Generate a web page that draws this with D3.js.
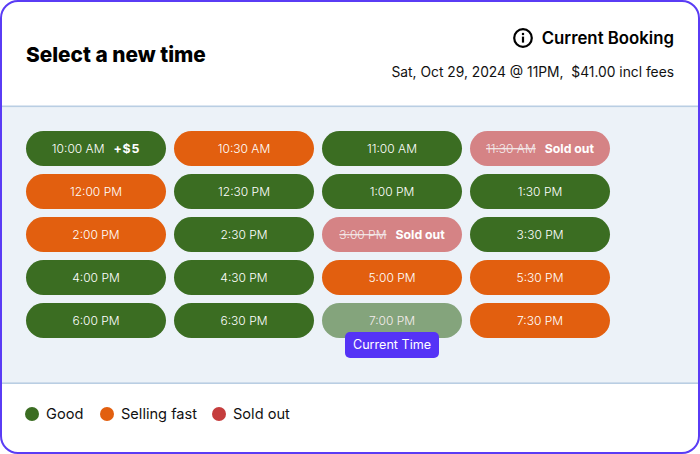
<!DOCTYPE html>
<html><head><meta charset="utf-8">
<script src="https://cdn.jsdelivr.net/npm/d3@7"></script>
<style>html,body{margin:0;padding:0;background:#fff}svg{display:block}text{font-family:Inter,"Noto Sans",sans-serif}</style>
</head><body><div id="c"></div>
<script>
const times=["10:00 AM","10:30 AM","11:00 AM","11:30 AM","12:00 PM","12:30 PM","1:00 PM","1:30 PM","2:00 PM","2:30 PM","3:00 PM","3:30 PM","4:00 PM","4:30 PM","5:00 PM","5:30 PM","6:00 PM","6:30 PM","7:00 PM","7:30 PM"];
const statuses=["good","fast","good","sold","fast","good","good","good","fast","good","sold","good","good","good","fast","fast","good","good","current","fast"];
const notes={"10:00 AM":"+$5","11:30 AM":"Sold out","3:00 PM":"Sold out"};
const columns=[0,1,2,3];
const rows=[0,1,2,3,4];
const legendLabels=["Good","Selling fast","Sold out"];
const legendKeys=["good","fast","sold"];
const legendColors=["#3B6D22","#E25F0F","#C53D3D"];
const title="Select a new time", bookingHead="Current Booking", bookingLine="Sat, Oct 29, 2024 @ 11PM,  $41.00 incl fees", tipLabel="Current Time";

const W=700,H=454;
const fill=d3.scaleOrdinal(["good","fast","sold","current"],["#3B6D22","#E25F0F","#D58385","#84A47C"]);
const x=d3.scaleBand().domain(columns).range([26,610]).paddingInner(8/148).paddingOuter(0).align(0);
const y=d3.scaleBand().domain(rows).range([131,338]).paddingInner(8/43).paddingOuter(0).align(0);
const svg=d3.select("#c").append("svg").attr("width",W).attr("height",H);

const defs=svg.append("defs");
defs.append("clipPath").attr("id","card").append("rect").attr("x",1).attr("y",1).attr("width",W-2).attr("height",H-2).attr("rx",17);

const g=svg.append("g").attr("clip-path","url(#card)");
g.append("rect").attr("width",W).attr("height",H).attr("fill","#fff");
g.append("rect").attr("x",0).attr("y",106).attr("width",W).attr("height",277).attr("fill","#ECF2F8");
g.append("rect").attr("x",0).attr("y",105.5).attr("width",W).attr("height",1.6).attr("fill","#B9CEE3");
g.append("rect").attr("x",0).attr("y",382.4).attr("width",W).attr("height",1.6).attr("fill","#B9CEE3");

svg.append("text").attr("x",26).attr("y",61.5).attr("font-size",20.8).attr("font-weight",800).attr("fill","#000").text(title);
svg.append("text").attr("x",674).attr("y",44).attr("text-anchor","end").attr("font-size",16.8).attr("font-weight",600).attr("fill","#000").text(bookingHead);
svg.append("text").attr("x",674).attr("y",77).attr("text-anchor","end").attr("font-size",13.8).attr("font-weight",400).attr("fill","#111").style("white-space","pre").text(bookingLine);

const ic=svg.append("g").attr("transform","translate(523,38)");
ic.append("circle").attr("r",8.8).attr("fill","none").attr("stroke","#000").attr("stroke-width",2.2);
ic.append("rect").attr("x",-1.1).attr("y",-1.4).attr("width",2.2).attr("height",6).attr("fill","#000");
ic.append("circle").attr("cy",-4).attr("r",1.25).attr("fill","#000");

const cells=times.map((t,i)=>({t,s:statuses[i],col:columns[i%4],row:Math.floor(i/4),note:notes[t]}));
const cell=svg.selectAll("g.slot").data(cells).join("g").attr("class","slot")
  .attr("transform",d=>`translate(${x(d.col)},${y(d.row)})`);
const BW=x.bandwidth(),BH=y.bandwidth(),GAP=9;
cell.append("rect").attr("width",BW).attr("height",BH).attr("rx",17.5).attr("fill",d=>fill(d.s));
const tTime=cell.append("text").attr("class","time").attr("y",BH/2+4.2).attr("font-size",12).attr("font-weight",300)
  .attr("fill",d=>d.s==="sold"||d.s==="current"?"#F4ECEC":"#fff")
  .attr("text-decoration",d=>d.s==="sold"?"line-through":null)
  .attr("x",BW/2).attr("text-anchor","middle").text(d=>d.t);
cell.filter(d=>d.note).each(function(d){
  const c=d3.select(this), tt=c.select("text.time");
  const n=c.append("text").attr("y",BH/2+4.2).attr("font-size",12.3).attr("font-weight",700).attr("fill","#fff")
    .attr("letter-spacing",d.s==="sold"?0:0.8).text(d.note);
  const a=tt.node().getComputedTextLength(), b=n.node().getComputedTextLength();
  const left=(BW-a-b-GAP)/2;
  tt.attr("text-anchor","start").attr("x",left);
  n.attr("x",left+a+GAP);
});

const cur=cells.find(d=>d.s==="current");
const tipX=x(cur.col)+BW/2, tipY=y(cur.row)+BH-6;
svg.append("rect").attr("x",tipX-47).attr("y",tipY).attr("width",94).attr("height",26).attr("rx",5).attr("fill","#5533F6");
svg.append("text").attr("x",tipX).attr("y",tipY+17.3).attr("text-anchor","middle").attr("font-size",12.6).attr("font-weight",400).attr("fill","#fff").text(tipLabel);

const legendX=d3.scaleOrdinal(legendKeys,[32,107,219]);
const lg=svg.selectAll("g.lg").data(legendKeys).join("g").attr("class","lg").attr("transform",k=>`translate(${legendX(k)},414)`);
lg.append("circle").attr("r",7).attr("fill",(k,i)=>legendColors[i]);
lg.append("text").attr("x",14).attr("y",5).attr("font-size",14.6).attr("font-weight",400).attr("fill","#111").text((k,i)=>legendLabels[i]);

svg.append("rect").attr("x",1).attr("y",1).attr("width",W-2).attr("height",H-2).attr("rx",17).attr("fill","none").attr("stroke","#5A3CF5").attr("stroke-width",2);
</script></body></html>
